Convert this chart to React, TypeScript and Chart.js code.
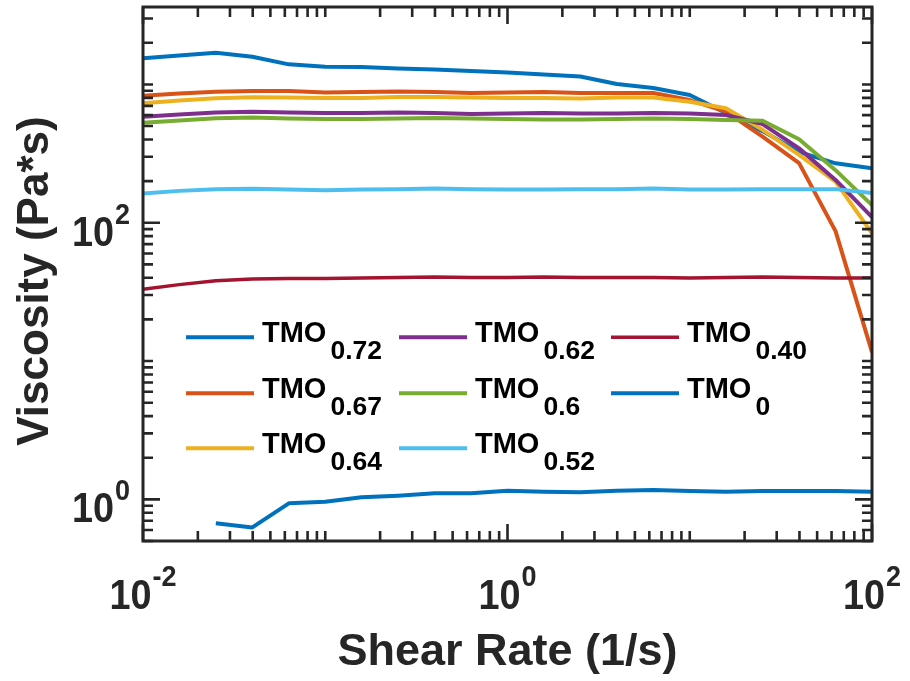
import React, { useEffect, useRef } from 'react';
import { Chart, registerables } from 'chart.js';

Chart.register(...registerables);

// ---------- data ----------
const shearRate = [0.01, 0.0158, 0.0251, 0.0398, 0.0631, 0.1, 0.158, 0.251, 0.398, 0.631, 1, 1.58, 2.51, 3.98, 6.31, 10, 15.8, 25.1, 39.8, 63.1, 100];

const tmo072 = [1545, 1618, 1694, 1585, 1397, 1342, 1335, 1306, 1281, 1250, 1219, 1180, 1141, 1007, 942, 838, 621, 460, 325, 269, 248];
const tmo067 = [828, 859, 885, 896, 896, 873, 881, 889, 881, 866, 873, 881, 866, 866, 866, 771, 635, 419, 270, 87, 11.6];
const tmo064 = [730, 765, 793, 807, 804, 797, 797, 811, 811, 804, 797, 797, 791, 804, 804, 750, 672, 470, 310, 198, 84];
const tmo062 = [584, 606, 628, 635, 626, 621, 621, 626, 621, 611, 616, 621, 616, 616, 621, 616, 601, 517, 345, 204, 110];
const tmo060 = [529, 548, 569, 576, 567, 562, 562, 567, 572, 567, 562, 557, 557, 562, 567, 562, 553, 546, 401, 240, 134];
const tmo052 = [163, 170, 175, 176, 174, 172, 174, 175, 177, 175, 174, 174, 175, 175, 177, 174, 174, 175, 175, 175, 164];
const tmo040 = [33.0, 35.7, 38.1, 39.2, 39.5, 39.5, 39.8, 40.2, 40.5, 40.2, 40.2, 40.5, 40.2, 40.2, 40.2, 39.8, 40.2, 40.5, 40.2, 39.8, 39.8];
const tmo000 = [null, null, 0.671, 0.627, 0.936, 0.961, 1.034, 1.062, 1.105, 1.105, 1.154, 1.135, 1.124, 1.154, 1.167, 1.148, 1.135, 1.148, 1.148, 1.148, 1.135];

const seriesSubs = ['0.72', '0.67', '0.64', '0.62', '0.6', '0.52', '0.40', '0'];
const seriesValues = [tmo072, tmo067, tmo064, tmo062, tmo060, tmo052, tmo040, tmo000];
const seriesColors = ['#0072BD', '#D95319', '#EDB120', '#7E2F8E', '#77AC30', '#4DBEEE', '#A2142F', '#0072BD'];
const seriesWidths = [4, 4, 4, 4, 4, 4, 3.5, 4];

const xTickValues = [0.01, 1, 100];
const xTickExps = ['-2', '0', '2'];
const yTickValues = [1, 100];
const yTickExps = ['0', '2'];

const xTitle = 'Shear Rate (1/s)';
const yTitle = 'Viscosity (Pa*s)';

const FONT = '"Liberation Sans", Arial, Helvetica, sans-serif';
const AX = '#262626';

function minorTicks(lo: number, hi: number, majors: number[]) {
  const out: number[] = [];
  for (let e = -3; e <= 4; e++) {
    for (let m = 1; m <= 9; m++) {
      const v = parseFloat((m * Math.pow(10, e)).toPrecision(6));
      if (v >= lo * 0.999 && v <= hi * 1.001 && !majors.some((k) => Math.abs(k - v) / k < 1e-6)) out.push(v);
    }
  }
  return out;
}

function drawPow(ctx: CanvasRenderingContext2D, exp: string, x: number, baseline: number, supBaseline: number, align: 'center' | 'right') {
  const sx = 0.9;
  const mainFont = `bold 42px ${FONT}`;
  const supFont = `bold 30px ${FONT}`;
  ctx.font = mainFont;
  const wb = ctx.measureText('10').width * sx;
  ctx.font = supFont;
  const we = ctx.measureText(exp).width * sx;
  const total = wb + we + 1;
  const left = align === 'center' ? x - total / 2 : x - total;
  ctx.textAlign = 'left';
  ctx.textBaseline = 'alphabetic';
  ctx.fillStyle = AX;
  ctx.save();
  ctx.translate(left, baseline);
  ctx.scale(sx, 1);
  ctx.font = mainFont;
  ctx.fillText('10', 0, 0);
  ctx.restore();
  ctx.save();
  ctx.translate(left + wb + 1, supBaseline);
  ctx.scale(sx, 1);
  ctx.font = supFont;
  ctx.fillText(exp, 0, 0);
  ctx.restore();
}

const decorPlugin = {
  id: 'decor',
  afterDatasetsDraw(chart: any) {
    const ctx: CanvasRenderingContext2D = chart.ctx;
    const { left, right, top, bottom } = chart.chartArea;
    const xs = chart.scales.x;
    const ys = chart.scales.y;
    ctx.save();
    // box
    ctx.strokeStyle = AX;
    ctx.lineWidth = 3;
    ctx.strokeRect(left, top, right - left, bottom - top);
    // ticks
    ctx.lineWidth = 2.6;
    ctx.lineCap = 'butt';
    const xMinor = minorTicks(xs.min, xs.max, xTickValues);
    const yMinor = minorTicks(ys.min, ys.max, yTickValues);
    const drawX = (v: number, len: number) => {
      const px = xs.getPixelForValue(v);
      ctx.beginPath();
      ctx.moveTo(px, bottom);
      ctx.lineTo(px, bottom - len);
      ctx.moveTo(px, top);
      ctx.lineTo(px, top + len);
      ctx.stroke();
    };
    const drawY = (v: number, len: number) => {
      const py = ys.getPixelForValue(v);
      ctx.beginPath();
      ctx.moveTo(left, py);
      ctx.lineTo(left + len, py);
      ctx.moveTo(right, py);
      ctx.lineTo(right - len, py);
      ctx.stroke();
    };
    xMinor.forEach((v) => drawX(v, 10));
    xTickValues.forEach((v) => drawX(v, 17));
    yMinor.forEach((v) => drawY(v, 10));
    yTickValues.forEach((v) => drawY(v, 17));

    // tick labels
    xTickValues.forEach((v, i) => {
      const px = xs.getPixelForValue(v);
      drawPow(ctx, xTickExps[i], px, bottom + 67.5, bottom + 45, 'center');
    });
    yTickValues.forEach((v, i) => {
      const py = ys.getPixelForValue(v);
      drawPow(ctx, yTickExps[i], left - 13, py + 23, py + 1, 'right');
    });

    // axis titles
    ctx.fillStyle = AX;
    ctx.font = `bold 45px ${FONT}`;
    ctx.textAlign = 'center';
    ctx.textBaseline = 'alphabetic';
    ctx.fillText(xTitle, (left + right) / 2, 665);
    ctx.font = `bold 44px ${FONT}`;
    ctx.save();
    ctx.translate(48, 281);
    ctx.rotate(-Math.PI / 2);
    ctx.fillText(yTitle, 0, 0);
    ctx.restore();

    // legend (3 columns, column-major)
    const colX = [186, 399, 611];
    const rowY = [337.3, 393.3, 448.3];
    chart.data.datasets.forEach((ds: any, i: number) => {
      const col = Math.floor(i / 3);
      const row = i % 3;
      const x0 = colX[col];
      const y0 = rowY[row];
      ctx.strokeStyle = ds.borderColor;
      ctx.lineWidth = ds.borderWidth;
      ctx.beginPath();
      ctx.moveTo(x0, y0);
      ctx.lineTo(x0 + 68, y0);
      ctx.stroke();
      ctx.fillStyle = '#000000';
      ctx.textAlign = 'left';
      ctx.font = `bold 29px ${FONT}`;
      const tx = x0 + 76;
      ctx.fillText('TMO', tx, y0 + 5);
      const w = ctx.measureText('TMO').width;
      ctx.font = `bold 26.5px ${FONT}`;
      ctx.fillText(seriesSubs[i], tx + w + 4, y0 + 21.5);
    });
    ctx.restore();
  },
};

export default function App() {
  const ref = useRef<HTMLCanvasElement | null>(null);
  useEffect(() => {
    if (!ref.current) return;
    const datasets = seriesValues.map((vals, i) => ({
      label: `TMO${seriesSubs[i]}`,
      data: shearRate.map((x, j) => ({ x, y: vals[j] })),
      borderColor: seriesColors[i],
      backgroundColor: seriesColors[i],
      borderWidth: seriesWidths[i],
      pointRadius: 0,
      tension: 0,
      fill: false,
      spanGaps: false,
      order: 10 - i,
    }));
    const chart = new Chart(ref.current, {
      type: 'line',
      data: { datasets },
      options: {
        responsive: false,
        animation: false,
        events: [],
        layout: { padding: { left: 143, top: 7, right: 38, bottom: 140 } },
        scales: {
          x: { type: 'logarithmic', min: 0.01, max: 100, display: false },
          y: { type: 'logarithmic', min: 0.5, max: 3630, display: false },
        },
        plugins: { legend: { display: false }, tooltip: { enabled: false } },
        elements: { line: { borderCapStyle: 'butt', borderJoinStyle: 'round' } },
      },
      plugins: [decorPlugin],
    } as any);
    return () => chart.destroy();
  }, []);
  return (
    <div style={{ position: 'absolute', left: 0, top: 0, width: 910, height: 681, background: '#ffffff' }}>
      <canvas ref={ref} width={910} height={681} style={{ display: 'block' }} />
    </div>
  );
}
